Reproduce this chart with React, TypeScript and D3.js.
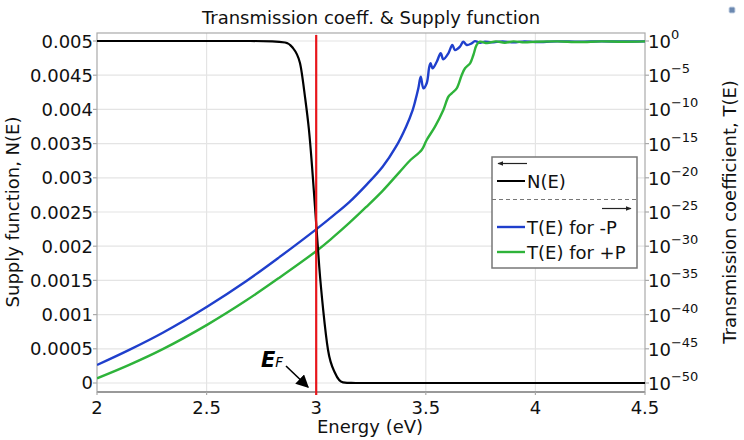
import React from "react";
import * as d3 from "d3";

// ---- data ----
const xTicks = [2, 2.5, 3, 3.5, 4, 4.5];
const leftTicks = [0, 0.0005, 0.001, 0.0015, 0.002, 0.0025, 0.003, 0.0035, 0.004, 0.0045, 0.005];
const rightTickExps = [0, -5, -10, -15, -20, -25, -30, -35, -40, -45, -50];

// Supply function N(E)
const nE = [2.0, 2.5, 2.7, 2.8, 2.858, 2.89, 2.926, 2.949, 2.967, 3.002, 3.014, 3.032, 3.054, 3.086, 3.122, 3.16, 3.2, 3.5, 4.0, 4.5];
const nV = [0.005, 0.005, 0.005, 0.004995, 0.004978, 0.004912, 0.004678, 0.004181, 0.003699, 0.002237, 0.001696, 0.001067, 0.000482, 0.000146, 0.00001, 0.0000005, 0, 0, 0, 0];

// T(E) for -P  (log10 of T)
const tMinusE = [2.0, 2.147, 2.3, 2.502, 2.68, 2.832, 3.007, 3.075, 3.151, 3.227, 3.303, 3.364, 3.41, 3.44, 3.451, 3.466, 3.477, 3.489, 3.504, 3.516, 3.522, 3.531, 3.55, 3.568, 3.58, 3.603, 3.621, 3.633, 3.656, 3.671, 3.687, 3.709, 3.724, 3.747, 3.77, 3.8, 3.85, 3.9, 3.95, 4.0, 4.1, 4.2, 4.3, 4.4, 4.5];
const tMinusLg = [-47.37, -45.16, -42.65, -38.85, -35.12, -31.6, -27.35, -25.6, -23.55, -21.1, -18.38, -15.45, -12.52, -10.09, -8.87, -6.92, -5.22, -6.92, -6.18, -3.76, -3.26, -3.99, -3.03, -1.8, -2.68, -1.8, -0.58, -1.32, -0.83, -0.1, -0.58, -0.34, -0.02, -0.25, -0.1, -0.2, -0.05, -0.2, -0.05, -0.15, -0.05, -0.1, -0.05, -0.08, -0.05];

// T(E) for +P (log10 of T)
const tPlusE = [2.0, 2.147, 2.3, 2.502, 2.68, 2.832, 3.007, 3.075, 3.151, 3.227, 3.303, 3.379, 3.43, 3.481, 3.504, 3.542, 3.58, 3.603, 3.618, 3.641, 3.664, 3.679, 3.702, 3.717, 3.732, 3.747, 3.78, 3.82, 3.86, 3.9, 3.95, 4.0, 4.1, 4.2, 4.3, 4.4, 4.5];
const tPlusLg = [-49.32, -47.35, -45.05, -41.5, -37.95, -34.6, -30.55, -28.75, -26.6, -24.3, -21.9, -19.2, -17.4, -15.94, -14.47, -12.52, -10.09, -8.15, -7.65, -6.92, -4.97, -3.99, -3.26, -2.05, -0.58, -0.1, -0.3, -0.05, -0.25, -0.05, -0.2, -0.1, -0.05, -0.15, -0.05, -0.1, -0.05];

const fermiE = 3.0;
const legendLabels = ["N(E)", "T(E) for -P", "T(E) for +P"];
const seriesColors = ["#000000", "#1f3fcc", "#2eb33a"];

const W = 744;
const H = 440;
const L = 97, R = 645, T = 33, B = 392;
const FONT = "DejaVu Sans, Verdana, sans-serif";

export default function App() {
  const x = d3.scaleLinear().domain([2, 4.5]).range([L, R]);
  const yL = d3.scaleLinear().domain([-0.0001316, 0.005117]).range([B, T]);
  const yR = d3.scaleLog().domain([Math.pow(10, -51.316), Math.pow(10, 1.17)]).range([B, T]);

  const smooth = d3.curveCatmullRom.alpha(0.5);
  const lineN = d3.line<number>().x((_, i) => x(nE[i])).y((d) => yL(d)).curve(d3.curveMonotoneX);
  const lineTm = d3.line<number>().x((_, i) => x(tMinusE[i])).y((d) => yR(Math.pow(10, d))).curve(smooth);
  const lineTp = d3.line<number>().x((_, i) => x(tPlusE[i])).y((d) => yR(Math.pow(10, d))).curve(smooth);

  const grid = "#e4e4e4";
  const axis = "#aaaaaa";

  const lgX = 492, lgY = 157, lgW = 145, lgH = 111;

  return (
    <div style={{ position: "absolute", left: 0, top: 0 }}>
      <svg width={W} height={H} style={{ display: "block", background: "#fff" }} fontFamily={FONT}>
        <defs>
          <clipPath id="plot">
            <rect x={L} y={T} width={R - L} height={B - T} />
          </clipPath>
          <marker id="ah" viewBox="0 0 10 10" refX="9" refY="5" markerWidth="8" markerHeight="8" orient="auto">
            <path d="M0,0 L10,5 L0,10 z" fill="#000" />
          </marker>
          <marker id="ahs" viewBox="0 0 10 10" refX="9" refY="5" markerWidth="5" markerHeight="5" orient="auto-start-reverse">
            <path d="M0,1 L10,5 L0,9 z" fill="#222" />
          </marker>
        </defs>

        {/* title */}
        <text x={371} y={24} textAnchor="middle" fontSize={18} fill="#111">
          Transmission coeff. &amp; Supply function
        </text>

        {/* small icon top right */}
        <rect x={729} y={7} width={6} height={6} rx={1.5} fill="#6b88b0" stroke="#c9d5e6" strokeWidth={1} />

        {/* grid */}
        {xTicks.slice(1, -1).map((t) => (
          <line key={"gx" + t} x1={x(t)} x2={x(t)} y1={T} y2={B} stroke={grid} strokeWidth={1.2} />
        ))}
        {leftTicks.map((t) => (
          <line key={"gy" + t} x1={L} x2={R} y1={yL(t)} y2={yL(t)} stroke={grid} strokeWidth={1.2} />
        ))}

        {/* frame */}
        <rect x={L} y={T} width={R - L} height={B - T} fill="none" stroke={axis} strokeWidth={1.2} />
        <line x1={L} x2={R} y1={B} y2={B} stroke="#999" strokeWidth={2} />

        {/* left ticks */}
        {leftTicks.map((t) => (
          <g key={"lt" + t}>
            <line x1={L - 4} x2={L} y1={yL(t)} y2={yL(t)} stroke={axis} strokeWidth={1.2} />
            <text x={L - 4} y={yL(t) + 6.5} textAnchor="end" fontSize={18} fill="#111">
              {d3.format("~g")(t)}
            </text>
          </g>
        ))}

        {/* right ticks */}
        {rightTickExps.map((e) => (
          <g key={"rt" + e}>
            <line x1={R} x2={R + 4} y1={yR(Math.pow(10, e))} y2={yR(Math.pow(10, e))} stroke={axis} strokeWidth={1.2} />
            <text x={R + 3} y={yR(Math.pow(10, e)) + 7} fontSize={18} fill="#111">
              10
              <tspan dy={-9} fontSize={13}>{e === 0 ? "0" : "\u2212" + Math.abs(e)}</tspan>
            </text>
          </g>
        ))}

        {/* bottom ticks */}
        {xTicks.map((t) => (
          <g key={"bt" + t}>
            <line x1={x(t)} x2={x(t)} y1={B} y2={B + 3} stroke={axis} strokeWidth={1.2} />
            <text x={x(t)} y={414} textAnchor="middle" fontSize={18} fill="#111">
              {d3.format("~g")(t)}
            </text>
          </g>
        ))}

        {/* axis titles */}
        <text x={370} y={433} textAnchor="middle" fontSize={18} fill="#111">Energy (eV)</text>
        <text transform={`translate(19,212) rotate(-90)`} textAnchor="middle" fontSize={18} fill="#111">
          Supply function, N(E)
        </text>
        <text transform={`translate(736,212) rotate(-90)`} textAnchor="middle" fontSize={18} fill="#111">
          Transmission coefficient, T(E)
        </text>

        {/* series */}
        <g clipPath="url(#plot)">
          <path d={lineTm(tMinusLg) || ""} fill="none" stroke={seriesColors[1]} strokeWidth={2.4} strokeLinejoin="round" />
          <path d={lineTp(tPlusLg) || ""} fill="none" stroke={seriesColors[2]} strokeWidth={2.4} strokeLinejoin="round" />
          <path d={lineN(nV) || ""} fill="none" stroke={seriesColors[0]} strokeWidth={2.2} />
        </g>

        {/* Fermi level */}
        <line x1={x(fermiE)} x2={x(fermiE)} y1={T + 2} y2={B + 3} stroke="#e8161b" strokeWidth={2.2} />

        {/* E_F annotation */}
        <text x={261} y={366.5} fontSize={21} fontWeight="bold" fontStyle="italic" fill="#000">
          E
          <tspan fontSize={13.5} fontWeight="normal">F</tspan>
        </text>
        <line x1={286} y1={366} x2={308} y2={387} stroke="#000" strokeWidth={1.6} markerEnd="url(#ah)" />

        {/* legend */}
        <rect x={lgX} y={lgY} width={lgW} height={lgH} fill="#fff" stroke="#777" strokeWidth={1.5} />
        <line x1={498} x2={527} y1={163.5} y2={163.5} stroke="#222" strokeWidth={1.2} markerStart="url(#ahs)" />
        <line x1={497} x2={525} y1={181} y2={181} stroke={seriesColors[0]} strokeWidth={2} />
        <text x={527} y={187.5} fontSize={18} fill="#111">{legendLabels[0]}</text>
        <line x1={lgX} x2={lgX + lgW} y1={199.5} y2={199.5} stroke="#777" strokeWidth={1} strokeDasharray="4,3" />
        <line x1={602} x2={631} y1={208.5} y2={208.5} stroke="#222" strokeWidth={1.2} markerEnd="url(#ahs)" />
        <line x1={497} x2={525} y1={227} y2={227} stroke={seriesColors[1]} strokeWidth={2.4} />
        <text x={527} y={233.5} fontSize={18} fill="#111">{legendLabels[1]}</text>
        <line x1={497} x2={525} y1={252} y2={252} stroke={seriesColors[2]} strokeWidth={2.4} />
        <text x={527} y={258.5} fontSize={18} fill="#111">{legendLabels[2]}</text>
      </svg>
    </div>
  );
}
